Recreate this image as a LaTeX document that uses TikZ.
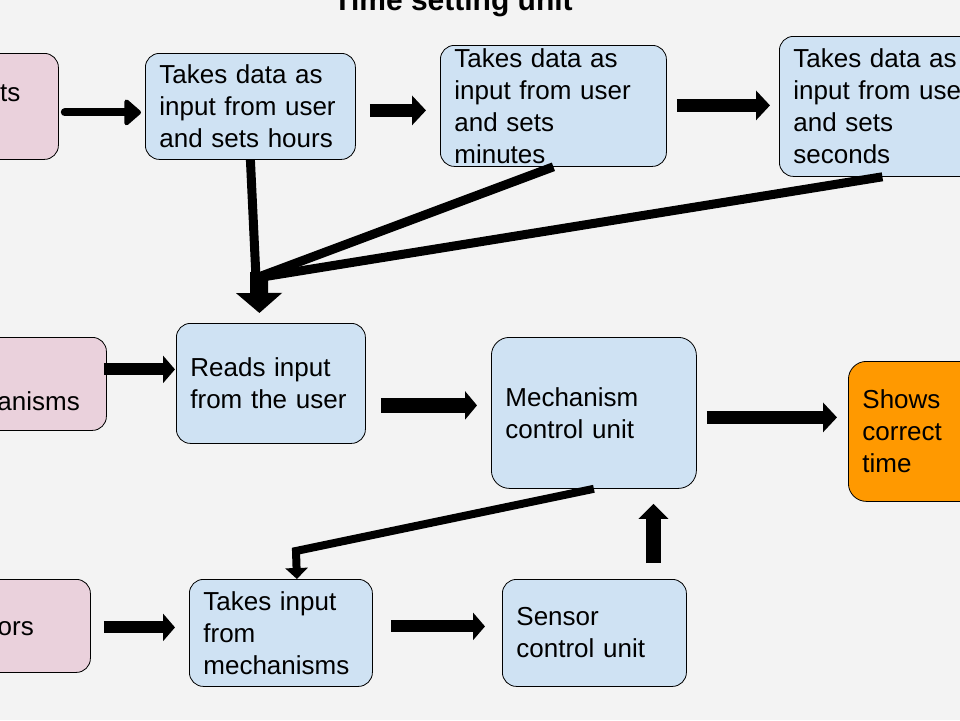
\documentclass[tikz,border=0pt]{standalone}
\usepackage{fontspec}
\setmainfont{Liberation Sans}
\usetikzlibrary{arrows.meta}

\definecolor{bgcol}{HTML}{F3F3F3}
\definecolor{boxblue}{HTML}{CFE2F3}
\definecolor{boxpink}{HTML}{EAD1DC}
\definecolor{boxorange}{HTML}{FF9900}
\newcommand\boxfont{\fontsize{26}{32}\selectfont}

\tikzset{
  box/.style={draw=black, line width=0.8pt, rounded corners=14pt, anchor=north west,
    align=left, inner xsep=14pt, inner ysep=0pt, font=\boxfont},
  bluebox/.style={box, fill=boxblue},
  pinkbox/.style={box, fill=boxpink},
  orangebox/.style={box, fill=boxorange},
  fat/.style={line width=13pt, -{Triangle[length=14pt,width=29pt]}},
  feed/.style={line width=9pt},
}

\begin{document}
\begin{tikzpicture}[x=1pt,y=-1pt]
\fill[bgcol] (0,0) rectangle (960,720);
\useasboundingbox (0,0) rectangle (960,720);
\clip (0,0) rectangle (960,720);

\node[anchor=base, font=\bfseries\fontsize{30}{36}\selectfont] (title) at (453,10) {Time setting unit};

% top row
\node[pinkbox, minimum width=208pt, minimum height=106pt] (inp) at (-150,53) {};
\node[anchor=base west, font=\boxfont, inner sep=0pt] (inptext) at (0,101) {ts};
\node[bluebox, minimum width=210pt, minimum height=106pt, text width=182pt] (hours) at (145,53)
  {Takes data as\\input from user\\and sets hours};
\node[bluebox, minimum width=226pt, minimum height=121pt, text width=198pt] (minutes) at (440,45)
  {Takes data as\\input from user\\and sets\\minutes};
\node[bluebox, minimum width=206pt, minimum height=140pt, text width=178pt] (seconds) at (779,36)
  {Takes data as\\input from user\\and sets\\seconds};

% middle row
\node[pinkbox, minimum width=256pt, minimum height=93pt] (mech) at (-150,337) {};
\node[anchor=base east, font=\boxfont, inner sep=0pt] (mechtext) at (80,410) {anisms};
\node[bluebox, minimum width=189pt, minimum height=120pt, text width=161pt] (reads) at (176,323)
  {Reads input\\from the user};
\node[bluebox, minimum width=205pt, minimum height=151pt, text width=177pt, rounded corners=18pt] (control) at (491,337)
  {Mechanism\\control unit};
\node[orangebox, minimum width=160pt, minimum height=140pt, text width=132pt, rounded corners=18pt] (shows) at (848,361)
  {Shows\\correct\\time};

% bottom row
\node[pinkbox, minimum width=240pt, minimum height=93pt] (sens) at (-150,579) {};
\node[anchor=base east, font=\boxfont, inner sep=0pt] (senstext) at (34,635) {ors};
\node[bluebox, minimum width=183pt, minimum height=107pt, text width=155pt] (takes) at (189,579)
  {Takes input\\from\\mechanisms};
\node[bluebox, minimum width=184pt, minimum height=107pt, text width=156pt] (sensor) at (502,579)
  {Sensor\\control unit};

% arrows along the rows
\draw[line width=8pt, line cap=round, -{Triangle[round,length=18pt,width=30pt]}]
  ([xshift=6pt,yshift=-6pt]inp.east) -- ([xshift=-4pt,yshift=-6pt]hours.west);
\draw[fat] ([xshift=14pt,yshift=-4pt]hours.east) -- ([xshift=-14pt,yshift=-4.5pt]minutes.west);
\draw[fat] ([xshift=10pt,yshift=0.5pt]minutes.east) -- ([xshift=-9pt,yshift=1pt]seconds.west);
\draw[fat, line width=12pt, -{Triangle[length=12pt,width=27pt]}]
  ([xshift=-3pt,yshift=14.5pt]mech.east) -- ([xshift=-1pt,yshift=14pt]reads.west);
\draw[fat, line width=15pt, -{Triangle[length=12pt,width=28pt]}]
  ([xshift=15pt,yshift=-22pt]reads.east) -- ([xshift=-14pt,yshift=7.5pt]control.west);
\draw[fat] ([xshift=10pt,yshift=-4.5pt]control.east) -- ([xshift=-11pt,yshift=14pt]shows.west);
\draw[fat, line width=12pt, -{Triangle[length=12pt,width=27pt]}]
  ([xshift=13pt,yshift=-1.5pt]sens.east) -- ([xshift=-14pt,yshift=5.5pt]takes.west);
\draw[fat, line width=12pt, -{Triangle[length=12pt,width=27pt]}]
  ([xshift=18pt,yshift=6.5pt]takes.east) -- ([xshift=-17pt,yshift=6.5pt]sensor.west);
\draw[fat, line width=15pt, -{Triangle[length=15pt,width=29pt]}]
  ([xshift=59pt,yshift=16pt]sensor.north) -- ([xshift=59.5pt,yshift=-15pt]control.south);

% the three settings feed the reader
\coordinate (join) at (256,278);
\draw[feed] (hours.south) -- (join);
\draw[feed] (minutes.south) -- (join);
\draw[feed] (seconds.south) -- (join);
\draw[line width=18pt, -{Triangle[length=20pt,width=45pt]}]
  ([xshift=3pt,yshift=6pt]join) -- ([xshift=-11.5pt,yshift=10pt]reads.north);

% control unit back down to the input taker
\coordinate (bend) at (296,551);
\draw[line width=8pt, line join=miter, -{Triangle[length=11pt,width=22pt]}]
  (control.south) -- (bend) -- ([xshift=16pt]takes.north);
\end{tikzpicture}
\end{document}
